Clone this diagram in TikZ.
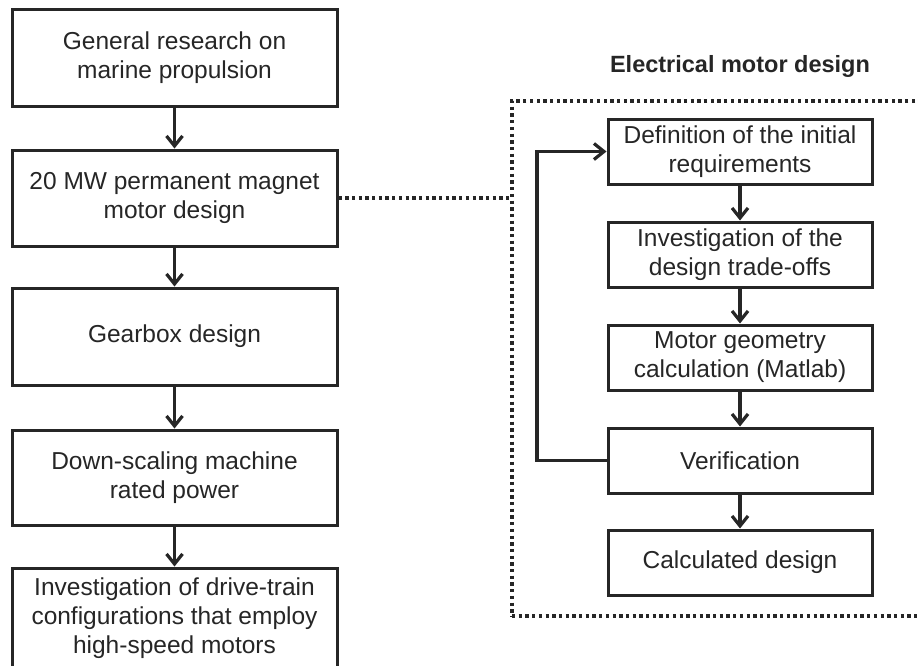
\documentclass[tikz,border=0pt]{standalone}
\usepackage{fontspec}
\setmainfont{Liberation Sans}
\usetikzlibrary{arrows.meta}
\definecolor{ink}{HTML}{262626}
\begin{document}
\begin{tikzpicture}[x=1pt,y=-1pt,
  lbox/.style={draw=ink, line width=3pt, text=ink, align=center, minimum width=325pt, inner sep=0pt,
    font=\fontsize{24.5}{29}\selectfont},
  rbox/.style={draw=ink, line width=3pt, text=ink, align=center, minimum width=264pt, minimum height=65pt, inner sep=0pt,
    font=\fontsize{24.5}{29}\selectfont},
  flow/.style={draw=ink, line width=3.2pt, -{Straight Barb[length=10pt,width=16pt,line width=3.2pt]}},
  dots/.style={draw=ink, line width=3.4pt, dash pattern=on 3.3pt off 3.4pt}
]
\clip (0,0) rectangle (917,665);
\fill[white] (0,0) rectangle (917,665);

% left column
\node[lbox, minimum height=97pt] (b1) at (174.5,57.5) {General research on\\marine propulsion};
\node[lbox, minimum height=96pt] (b2) at (174.5,198) {20 MW permanent magnet\\motor design};
\node[lbox, minimum height=97pt] (b3) at (174.5,336.5) {Gearbox design};
\node[lbox, minimum height=95pt] (b4) at (174.5,477.5) {Down-scaling machine\\rated power};
\node[lbox, minimum height=100pt] (b5) at (174.5,618) {Investigation of drive-train\\configurations that employ\\high-speed motors};

\draw[flow] (b1) -- (b2);
\draw[flow] (b2) -- (b3);
\draw[flow] (b3) -- (b4);
\draw[flow] (b4) -- (b5);

% dotted frame
\node[dots, minimum width=413pt, minimum height=515pt, inner sep=0pt] (frame) at (718.5,358.5) {};
\node[text=ink, font=\fontsize{23.5}{28}\selectfont\bfseries, anchor=base] (title) at (740,72) {Electrical motor design};
\draw[dots] (b2.east) -- (b2.east -| frame.west);

% right column
\node[rbox] (r1) at (740,151.5) {Definition of the initial\\requirements};
\node[rbox] (r2) at (740,254.5) {Investigation of the\\design trade-offs};
\node[rbox] (r3) at (740,357.5) {Motor geometry\\calculation (Matlab)};
\node[rbox] (r4) at (740,460.5) {Verification};
\node[rbox] (r5) at (740,562.5) {Calculated design};

\draw[flow] (r1) -- (r2);
\draw[flow] (r2) -- (r3);
\draw[flow] (r3) -- (r4);
\draw[flow] (r4) -- (r5);
\coordinate (lp) at (537,0);
\draw[flow] (r4.west) -- (r4.west -| lp) -- (r1.west -| lp) -- (r1.west);
\end{tikzpicture}
\end{document}
